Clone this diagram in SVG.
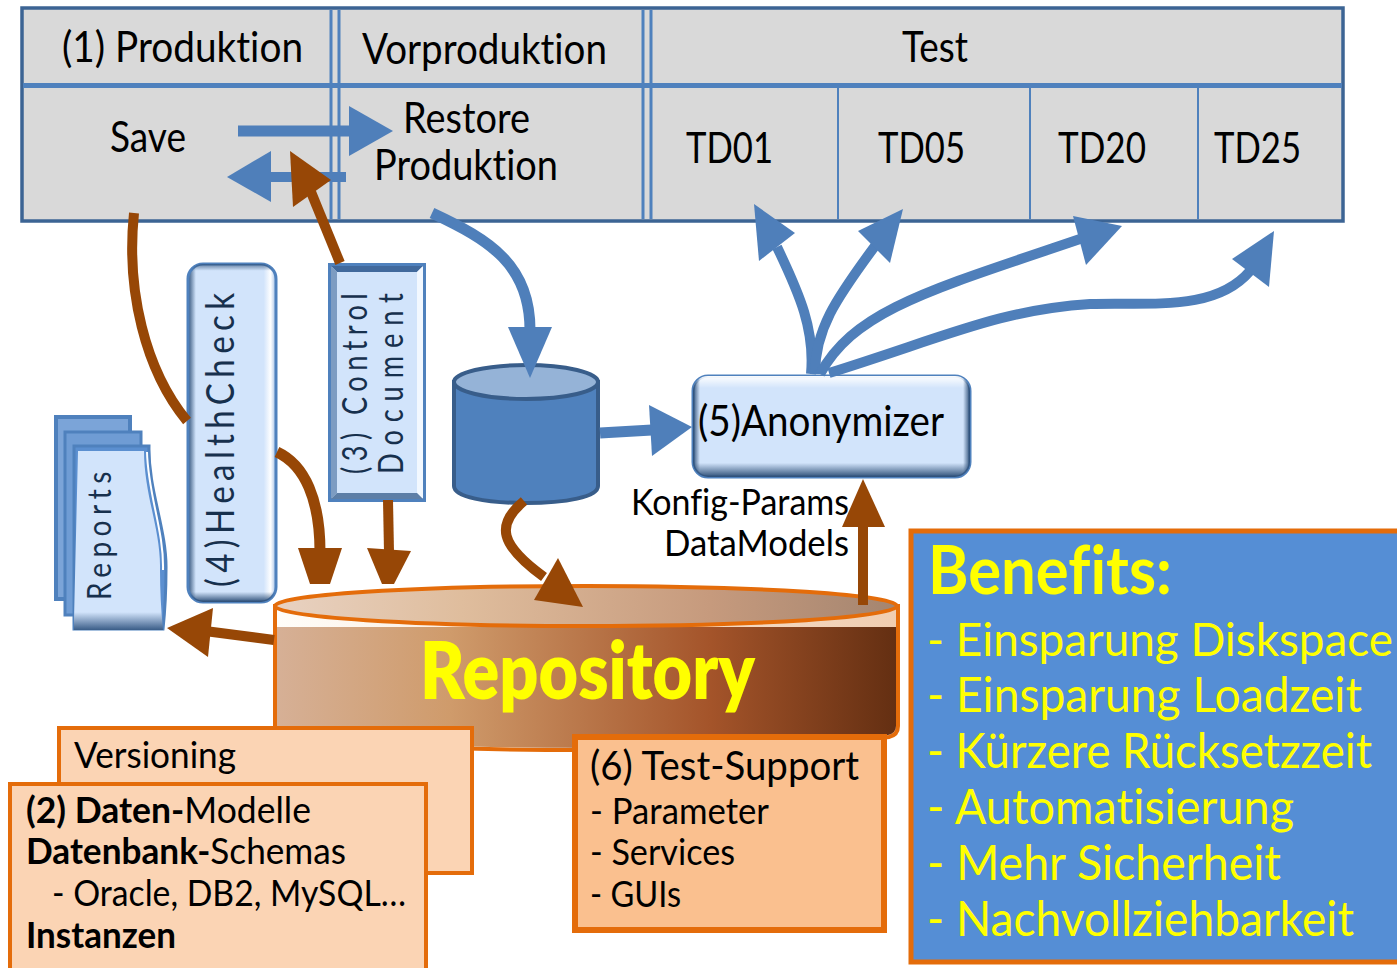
<svg xmlns="http://www.w3.org/2000/svg" width="1397" height="968" viewBox="0 0 1397 968">
<style>
text{font-family:Lato,"Liberation Sans",sans-serif;fill:#000;font-variant-ligatures:none}
.t{font-size:42px}
.k{font-size:37px}
.k2{font-size:40px}
.s{font-size:36px}
.y{fill:#ffff00}
.b{font-size:48px}
.bold{font-weight:700}
.nv{fill:#17304d}
.blue{fill:none;stroke:#4f7fba;stroke-width:10}
.br{fill:none;stroke:#974706;stroke-width:10}
.hb{fill:#4f7fba}
.hr{fill:#974706}
.grid{stroke:#4f81bd;fill:none}
.or{stroke:#e46c0a;stroke-width:4}
</style>
<defs>
<linearGradient id="repoBody"><stop offset="0" stop-color="#d6b096"/><stop offset=".28" stop-color="#cf9b6b"/><stop offset=".7" stop-color="#a4542a"/><stop offset="1" stop-color="#642f12"/></linearGradient>
<linearGradient id="repoTop"><stop offset="0" stop-color="#e8d2c2"/><stop offset=".3" stop-color="#dfbd9d"/><stop offset=".7" stop-color="#c69a7d"/><stop offset="1" stop-color="#a48570"/></linearGradient>
<linearGradient id="repoRim"><stop offset="0" stop-color="#fffdf9"/><stop offset="1" stop-color="#f0cdb0"/></linearGradient>
<linearGradient id="edgeV" x1="0" y1="0" x2="0" y2="1"><stop offset="0" stop-color="#fff"/><stop offset=".12" stop-color="#fff" stop-opacity="0"/><stop offset=".86" stop-color="#2f5078" stop-opacity="0"/><stop offset="1" stop-color="#2f5078"/></linearGradient>
<linearGradient id="edgeH"><stop offset="0" stop-color="#2f5078"/><stop offset=".025" stop-color="#2f5078" stop-opacity="0"/><stop offset=".975" stop-color="#2f5078" stop-opacity="0"/><stop offset="1" stop-color="#2f5078"/></linearGradient>
<linearGradient id="tallH"><stop offset="0" stop-color="#2f5078"/><stop offset=".09" stop-color="#d2e4fb"/><stop offset=".86" stop-color="#d2e4fb"/><stop offset=".94" stop-color="#fff"/><stop offset="1" stop-color="#9dbce4"/></linearGradient>
<linearGradient id="tallV" x1="0" y1="0" x2="0" y2="1"><stop offset="0" stop-color="#2f5078" stop-opacity=".7"/><stop offset=".02" stop-color="#2f5078" stop-opacity="0"/><stop offset=".97" stop-color="#2f5078" stop-opacity="0"/><stop offset="1" stop-color="#2f5078"/></linearGradient>
<linearGradient id="docB" x1="0" y1="0" x2="0" y2="1"><stop offset="0" stop-color="#d2e4fb"/><stop offset=".9" stop-color="#d2e4fb"/><stop offset="1" stop-color="#3a5d88"/></linearGradient>
</defs>
<rect width="1397" height="968" fill="#fff"/>

<g id="table">
<rect x="22" y="8" width="1321" height="213" fill="#d9d9d9" stroke="#3c6494" stroke-width="3.5"/>
<path class="grid" stroke-width="5" d="M23 85.5H1342"/>
<path class="grid" stroke-width="3" d="M331 10V219M339 10V219M643 10V219M651 10V219"/>
<path class="grid" stroke-width="2" d="M838 87V219M1030 87V219M1198 87V219"/>
<text class="t" x="62" y="62" textLength="241" lengthAdjust="spacingAndGlyphs">(1) Produktion</text>
<text class="t" x="362" y="64" textLength="245" lengthAdjust="spacingAndGlyphs">Vorproduktion</text>
<text class="t" x="902" y="62" textLength="66" lengthAdjust="spacingAndGlyphs">Test</text>
<text class="t" x="110" y="152" textLength="76" lengthAdjust="spacingAndGlyphs">Save</text>
<text class="t" x="403" y="133" textLength="127" lengthAdjust="spacingAndGlyphs">Restore</text>
<text class="t" x="374" y="180" textLength="184" lengthAdjust="spacingAndGlyphs">Produktion</text>
<text class="t" x="686" y="163" textLength="87" lengthAdjust="spacingAndGlyphs">TD01</text>
<text class="t" x="878" y="163" textLength="87" lengthAdjust="spacingAndGlyphs">TD05</text>
<text class="t" x="1058" y="163" textLength="88" lengthAdjust="spacingAndGlyphs">TD20</text>
<text class="t" x="1214" y="163" textLength="87" lengthAdjust="spacingAndGlyphs">TD25</text>
</g>

<g id="reports">
<rect x="56" y="417" width="74" height="182" fill="#7ba4d8" stroke="#4f81bd" stroke-width="4"/>
<rect x="65" y="432" width="76" height="183" fill="#6f9cd4" stroke="#4f81bd" stroke-width="3"/>
<path d="M74 446H149C148 490 167 530 166 570C166 595 165 610 163 629H74Z" fill="#5b8fd0" stroke="#4f81bd" stroke-width="3"/>
<path d="M78 451H144C144 495 161 530 160 570C160 590 161 610 163 630H74V620Z" fill="url(#docB)"/>
<path d="M147 452C148 495 164 530 163 570" fill="none" stroke="#fff" stroke-width="2"/>
<text class="nv" transform="translate(111 600) rotate(-90) scale(.85 1)" textLength="151" lengthAdjust="spacing" style="font-size:33px">Reports</text>
</g>

<g id="healthcheck">
<rect x="188" y="264" width="88" height="338" rx="15" fill="url(#tallH)" stroke="#4f81bd" stroke-width="3"/>
<rect x="188" y="264" width="88" height="338" rx="15" fill="url(#tallV)"/>
<text class="nv" transform="translate(234 587) rotate(-90) scale(.85 1)" textLength="346" lengthAdjust="spacing" style="font-size:39px">(4)HealthCheck</text>
</g>

<g id="control-document">
<rect x="330" y="265" width="94" height="235" fill="#d2e4fb" stroke="#4f81bd" stroke-width="4"/>
<polygon points="330,265 424,265 417,272 337,272" fill="#41699c"/>
<polygon points="330,265 337,272 337,493 330,500" fill="#7d9cc2"/>
<polygon points="424,265 417,272 417,493 424,500" fill="#f2f8ff"/>
<polygon points="330,500 337,493 417,493 424,500" fill="#5d7ea6"/>
<rect x="329.5" y="264.500" width="95" height="236" fill="none" stroke="#4f81bd" stroke-width="3"/>
<text class="nv" transform="translate(367 474) rotate(-90) scale(.8 1)" textLength="226" lengthAdjust="spacing" style="font-size:34px">(3) Control</text>
<text class="nv" transform="translate(403 474) rotate(-90) scale(.8 1)" textLength="226" lengthAdjust="spacing" style="font-size:34px">Document</text>
</g>

<g id="database">
<path d="M454 382V486C454 497 486 503 526 503S598 497 598 486V382Z" fill="#4f81bd" stroke="#385d8a" stroke-width="4"/>
<ellipse cx="526" cy="382" rx="72" ry="17" fill="#95b3d7" stroke="#385d8a" stroke-width="4"/>
</g>

<g id="anonymizer">
<rect x="693" y="376" width="277" height="101" rx="15" fill="#d2e4fb" stroke="#4f81bd" stroke-width="3"/>
<rect x="693" y="376" width="277" height="101" rx="15" fill="url(#edgeV)"/>
<rect x="693" y="376" width="277" height="101" rx="15" fill="url(#edgeH)"/>
<text class="t" x="698" y="436" textLength="246" lengthAdjust="spacingAndGlyphs">(5)Anonymizer</text>
</g>

<g id="konfig-label">
<text class="k" x="631" y="515" textLength="218" lengthAdjust="spacingAndGlyphs">Konfig-Params</text>
<text class="k" x="664" y="556" textLength="185" lengthAdjust="spacingAndGlyphs">DataModels</text>
</g>

<g id="repository">
<path class="or" d="M275 606V738C340 744 450 750 586 750C720 750 830 745 889 737Q898 735 898 726V606Z" fill="url(#repoRim)"/>
<path d="M277 627H896V726Q896 733 888 735C830 743 720 748 586 748C450 748 340 742 277 736Z" fill="url(#repoBody)"/>
<ellipse class="or" cx="586" cy="606" rx="311" ry="20" fill="url(#repoTop)"/>
<text class="y" font-weight="800" x="420" y="699" textLength="335" lengthAdjust="spacingAndGlyphs" style="font-size:80px">Repository</text>
</g>

<g id="versioning">
<rect class="or" x="59" y="728" width="413" height="145" fill="#fbd4b4"/>
<text class="s" x="74" y="768" textLength="162" lengthAdjust="spacingAndGlyphs">Versioning</text>
</g>

<g id="daten-modelle">
<rect class="or" x="10" y="784" width="416" height="190" fill="#fbd4b4"/>
<text class="s" x="26" y="823" textLength="285" lengthAdjust="spacingAndGlyphs"><tspan class="bold">(2) Daten-</tspan>Modelle</text>
<text class="s" x="26" y="864" textLength="320" lengthAdjust="spacingAndGlyphs"><tspan class="bold">Datenbank-</tspan>Schemas</text>
<text class="s" x="52" y="906" textLength="354" lengthAdjust="spacingAndGlyphs">- Oracle, DB2, MySQL…</text>
<text class="s bold" x="26" y="948" textLength="150" lengthAdjust="spacingAndGlyphs">Instanzen</text>
</g>

<g id="test-support">
<rect x="575" y="737" width="309" height="193" fill="#fac08f" stroke="#e46c0a" stroke-width="6"/>
<text class="k2" x="590" y="780" textLength="269" lengthAdjust="spacingAndGlyphs">(6) Test-Support</text>
<text class="s" x="590" y="824" textLength="179" lengthAdjust="spacingAndGlyphs">- Parameter</text>
<text class="s" x="590" y="865" textLength="145" lengthAdjust="spacingAndGlyphs">- Services</text>
<text class="s" x="590" y="907" textLength="91" lengthAdjust="spacingAndGlyphs">- GUIs</text>
</g>

<g id="benefits">
<rect x="911" y="531" width="490" height="431" fill="#558ed5" stroke="#e46c0a" stroke-width="5"/>
<text class="y bold" x="928" y="594" textLength="244" lengthAdjust="spacingAndGlyphs" style="font-size:66px">Benefits:</text>
<text class="y" x="927" y="656" textLength="466" lengthAdjust="spacingAndGlyphs" style="font-size:46px">- Einsparung Diskspace</text>
<text class="y b" x="927" y="712" textLength="435" lengthAdjust="spacingAndGlyphs">- Einsparung Loadzeit</text>
<text class="y b" x="927" y="768" textLength="445" lengthAdjust="spacingAndGlyphs">- Kürzere Rücksetzzeit</text>
<text class="y b" x="927" y="824" textLength="367" lengthAdjust="spacingAndGlyphs">- Automatisierung</text>
<text class="y b" x="927" y="880" textLength="354" lengthAdjust="spacingAndGlyphs">- Mehr Sicherheit</text>
<text class="y b" x="927" y="936" textLength="427" lengthAdjust="spacingAndGlyphs">- Nachvollziehbarkeit</text>
</g>

<g id="connectors">
<path class="blue" style="stroke-width:11" d="M238 131H352"/>
<polygon class="hb" points="349,106 393,131 349,156"/>
<path class="blue" d="M268 177H346"/>
<polygon class="hb" points="227,177 271,151 271,202"/>
<path class="br" d="M340 263L311 192"/>
<polygon class="hr" points="290,151 293,207 331,180"/>
<path class="br" d="M134 213C126 290 145 370 187 421"/>
<path class="blue" style="stroke-width:11" d="M432 213C490 240 530 265 530 330"/>
<polygon class="hb" points="530,378 508,327 552,327"/>
<path class="blue" style="stroke-width:11" d="M600 433L652 430"/>
<polygon class="hb" points="649,405 692,427 652,456"/>
<path class="blue" d="M811 374C815 330 800 295 777 247"/>
<polygon class="hb" points="754,204 795,233 759,261"/>
<path class="blue" d="M815 374C815 330 835 300 875 246"/>
<polygon class="hb" points="903,209 858,231 890,263"/>
<path class="blue" d="M820 374C855 310 930 290 1080 239"/>
<polygon class="hb" points="1073,216 1122,226 1086,265"/>
<path class="blue" d="M829 373C950 335 1000 310 1090 304C1150 302 1215 312 1250 271"/>
<polygon class="hb" points="1274,231 1232,259 1269,287"/>
<path class="br" style="stroke-width:11" d="M277 452C305 465 320 500 320 552"/>
<polygon class="hr" points="298,548 342,548 330,584 310,584"/>
<path class="br" d="M388 500L389 552"/>
<polygon class="hr" points="367,548 411,551 394,584 382,584"/>
<path class="br" d="M524 501C495 525 500 545 544 577"/>
<polygon class="hr" points="558,558 534,600 583,607"/>
<path class="br" d="M863 605V520"/>
<polygon class="hr" points="863,479 842,527 885,527"/>
<path class="br" d="M274 640L205 631"/>
<polygon class="hr" points="167,628 213,608 208,657"/>
</g>
</svg>
